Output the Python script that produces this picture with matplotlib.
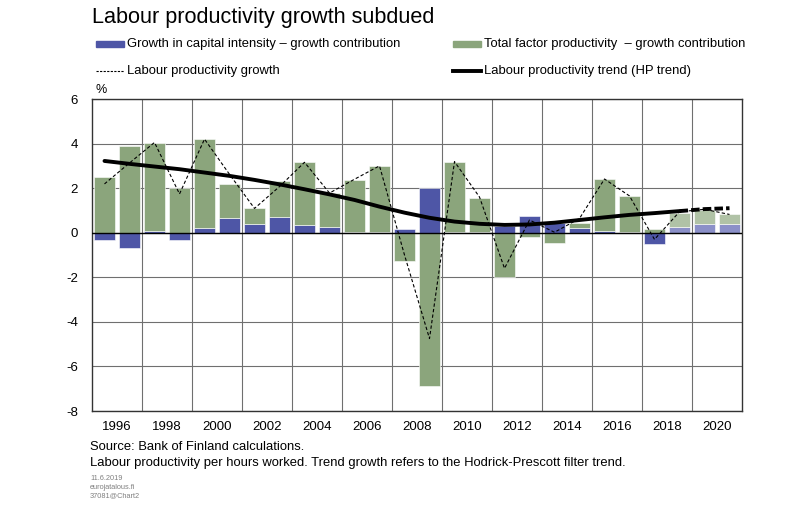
import matplotlib
matplotlib.use("Agg")
import matplotlib.pyplot as plt
from matplotlib.lines import Line2D
from matplotlib.patches import Rectangle
import numpy as np

plt.rcParams['font.family'] = ['Liberation Sans', 'DejaVu Sans']
plt.rcParams['axes.unicode_minus'] = False

years = list(range(1996, 2022))
capital = [-0.33, -0.67, 0.09, -0.33, 0.22, 0.67, 0.40, 0.72, 0.33, 0.27, 0.03, 0.02, 0.15,
           2.00, 0.02, 0.02, 0.32, 0.75, 0.42, 0.20, 0.09, 0.02, -0.51, 0.25, 0.37, 0.37]
tfp = [2.49, 3.87, 3.93, 1.99, 3.98, 1.53, 0.69, 1.59, 2.83, 1.51, 2.35, 2.98, -1.27,
       -6.87, 3.17, 1.55, -1.98, -0.21, -0.48, 0.25, 2.32, 1.63, 0.16, 0.62, 0.63, 0.45]
lp_growth = [2.19, 3.13, 4.05, 1.74, 4.20, 2.62, 1.09, 2.07, 3.16, 1.78, 2.40, 3.00, -1.00,
             -4.75, 3.19, 1.60, -1.60, 0.57, 0.02, 0.64, 2.41, 1.65, -0.30, 0.94, 1.05, 0.82]
lp_trend = [3.22, 3.09, 2.97, 2.85, 2.70, 2.55, 2.37, 2.17, 1.95, 1.72, 1.47, 1.17, 0.90,
            0.67, 0.50, 0.40, 0.35, 0.37, 0.45, 0.57, 0.69, 0.80, 0.88, 0.97, 1.06, 1.10]
forecast_from = 2019
xtick_labels = [str(y) for y in range(1996, 2021, 2)]

BLUE = '#4E56A6'
GREEN = '#8BA57C'
BLUE_L = '#8B90C8'
GREEN_L = '#B0C2A6'

W, H = 801, 524
fig = plt.figure(figsize=(W / 100, H / 100), dpi=100)
ax = fig.add_axes([92 / W, 1 - 411 / H, 650 / W, 312 / H])

x = np.array(years)
cap = np.array(capital)
tf = np.array(tfp)
is_fc = x >= forecast_from
bw = 0.85

cap_col = [BLUE_L if f else BLUE for f in is_fc]
tfp_col = [GREEN_L if f else GREEN for f in is_fc]
tfp_bottom = np.where(tf >= 0, np.maximum(cap, 0), np.minimum(cap, 0))

ax.bar(x, cap, width=bw, color=cap_col, edgecolor='white', linewidth=0.4, zorder=3)
ax.bar(x, tf, bottom=tfp_bottom, width=bw, color=tfp_col, edgecolor='white', linewidth=0.4, zorder=3)

ax.plot(x, lp_growth, color='black', lw=0.8, ls=(0, (3, 2)), zorder=5)
tr = np.array(lp_trend)
m = x <= forecast_from
ax.plot(x[m], tr[m], color='black', lw=2.8, solid_capstyle='round', zorder=6)
ax.plot(x[x >= forecast_from], tr[x >= forecast_from], color='black', lw=2.8,
        ls=(0, (2.2, 0.8)), zorder=6)

ax.set_xlim(1995.5, 2021.5)
ax.set_ylim(-8, 6)
ax.set_yticks(range(-8, 7, 2))
ax.set_xticks(np.arange(1997.5, 2021, 2))
ax.set_xticklabels([])
ax.set_xticks(np.arange(1996.5, 2021, 2), minor=True)
ax.set_xticklabels(xtick_labels, minor=True)
ax.tick_params(axis='both', which='both', length=0, labelsize=9.5, colors='black')
ax.tick_params(axis='y', pad=10)
ax.tick_params(axis='x', which='minor', pad=7)
ax.grid(True, which='major', color='#6f6f6f', lw=0.8, zorder=1)
ax.axhline(0, color='black', lw=1.0, zorder=4)
for s in ax.spines.values():
    s.set_color('#333333')
    s.set_linewidth(1.0)

# Title & labels
fig.text(92 / W, 1 - 18 / H, 'Labour productivity growth subdued', fontsize=15.6,
         va='center', ha='left')
fig.text(95 / W, 1 - 90 / H, '%', fontsize=9, va='center', ha='left')

# Legend (manual)
def legend_item(x0, y0, kind, label):
    yf = 1 - y0 / H
    if kind == 'blue':
        fig.patches.append(Rectangle((x0 / W, yf - 3 / H), 28 / W, 6 / H, color=BLUE,
                                     transform=fig.transFigure, figure=fig))
    elif kind == 'green':
        fig.patches.append(Rectangle((x0 / W, yf - 3 / H), 28 / W, 6 / H, color=GREEN,
                                     transform=fig.transFigure, figure=fig))
    elif kind == 'dash':
        fig.lines.append(Line2D([x0 / W, (x0 + 28) / W], [yf, yf], color='black', lw=0.8,
                                ls=(0, (2, 1.2)), transform=fig.transFigure))
    else:
        fig.lines.append(Line2D([x0 / W, (x0 + 28) / W], [yf, yf], color='black', lw=2.8,
                                transform=fig.transFigure))
    fig.text((x0 + 31) / W, yf, label, fontsize=9.4, va='center', ha='left')

legend_item(96, 44, 'blue', 'Growth in capital intensity – growth contribution')
legend_item(453, 44, 'green', 'Total factor productivity  – growth contribution')
legend_item(96, 71, 'dash', 'Labour productivity growth')
legend_item(453, 71, 'line', 'Labour productivity trend (HP trend)')

# Footnotes
fig.text(90 / W, 1 - 447 / H, 'Source: Bank of Finland calculations.', fontsize=9.4,
         va='center', ha='left')
fig.text(90 / W, 1 - 463 / H,
         'Labour productivity per hours worked. Trend growth refers to the Hodrick-Prescott filter trend.',
         fontsize=9.4, va='center', ha='left')
for i, t in enumerate(['11.6.2019', 'eurojatalous.fi', '37081@Chart2']):
    fig.text(90 / W, 1 - (479 + 8.5 * i) / H, t, fontsize=5.3, color='#808080',
             va='center', ha='left')

fig.savefig('out.png', dpi=100)
